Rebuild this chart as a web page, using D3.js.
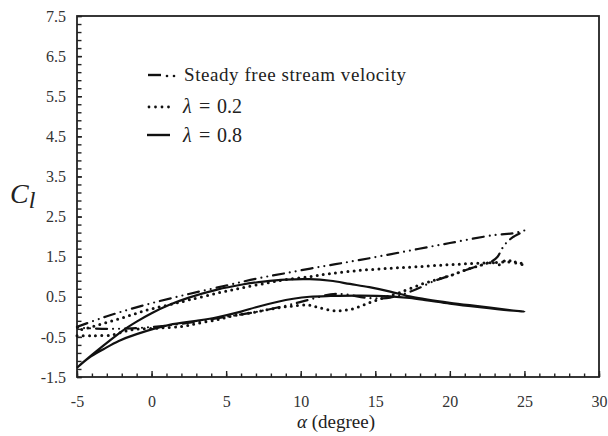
<!DOCTYPE html>
<html>
<head>
<meta charset="utf-8">
<script src="https://cdn.jsdelivr.net/npm/d3@7"></script>
<style>
  html, body { margin: 0; padding: 0; background: #fff; }
</style>
</head>
<body>
<svg id="chart" width="608" height="436"></svg>
<script>
// Lift coefficient vs angle of attack: hysteresis loops for a pitching aerofoil
const SERIF = "Liberation Serif, DejaVu Serif, serif";
const xMajorTicks = [-5, 0, 5, 10, 15, 20, 25, 30];
const yMajorTicks = [7.5, 6.5, 5.5, 4.5, 3.5, 2.5, 1.5, 0.5, -0.5, -1.5];

// Steady free stream velocity (upstroke then downstroke)
const steadyAlpha = [-5, -3.5, -2, 0, 2.5, 5, 7, 9, 11.5, 14, 17, 20, 23, 24.2, 25,
  24.2, 23.8, 23.5, 23.2, 22.8, 21.5, 20.2, 19, 17.5, 16, 14.5, 13, 12, 10.5, 9, 7, 5, 3, 1, -1, -3, -5];
const steadyCl = [-0.25, -0.05, 0.13, 0.34, 0.57, 0.78, 0.95, 1.09, 1.26, 1.42, 1.63, 1.84, 2.04, 2.08, 2.15,
  1.98, 1.85, 1.7, 1.5, 1.38, 1.22, 1.05, 0.9, 0.65, 0.48, 0.47, 0.56, 0.56, 0.42, 0.28, 0.12, 0.0, -0.12, -0.22, -0.28, -0.3, -0.27];

// lambda = 0.2
const lam02Alpha = [-5, -4, -2.6, -1.8, -1, 0.5, 2, 3, 4.4, 5.5, 7, 8.4, 9.5, 10.6, 11.3, 12.4, 13.5, 14.6, 15.6, 16.6, 18, 19.1, 20.2, 21.3, 22.2, 22.8, 23.3, 23.8, 24.3, 25,
  24.5, 22.2, 20, 17.8, 16, 14, 12, 10.6, 9, 7.7, 6, 4.4, 2.5, 1.2, 0, -1, -2, -3, -4, -5];
const lam02Cl = [-0.47, -0.47, -0.45, -0.36, -0.31, -0.28, -0.24, -0.17, -0.07, 0.03, 0.12, 0.22, 0.27, 0.29, 0.22, 0.15, 0.2, 0.35, 0.48, 0.6, 0.8, 0.93, 1.05, 1.2, 1.3, 1.36, 1.3, 1.42, 1.35, 1.3,
  1.36, 1.34, 1.3, 1.25, 1.21, 1.16, 1.08, 1.0, 0.93, 0.84, 0.72, 0.59, 0.42, 0.3, 0.2, 0.09, -0.03, -0.14, -0.25, -0.35];

// lambda = 0.8
const lam08Alpha = [-5, -4, -3, -2, -1, 0, 1.2, 2.5, 4.4, 6, 7.5, 9, 10.6, 12, 13.3, 14.6, 16, 17.3, 18.5, 20, 22, 24, 25,
  24, 22, 20, 18.5, 17.3, 16, 14, 12, 10.6, 9.5, 8.4, 7, 6, 4.4, 3, 1.2, -1, -2.2, -3.2, -4.2, -5];
const lam08Cl = [-1.27, -0.95, -0.65, -0.36, -0.12, 0.09, 0.3, 0.48, 0.68, 0.8, 0.88, 0.93, 0.94, 0.9, 0.82, 0.74, 0.63, 0.51, 0.43, 0.35, 0.26, 0.17, 0.13,
  0.16, 0.24, 0.33, 0.41, 0.47, 0.51, 0.53, 0.52, 0.5, 0.45, 0.37, 0.24, 0.13, -0.01, -0.1, -0.2, -0.43, -0.6, -0.8, -1.02, -1.27];

const legendLabels = ["Steady free stream velocity", "0.2", "0.8"];

const svg = d3.select("#chart");
const x = d3.scaleLinear().domain([-5, 30]).range([77, 599]);
const y = d3.scaleLinear().domain([-1.5, 7.5]).range([377, 16]);

// minor ticks
svg.append("g").attr("transform", `translate(0,${y(-1.5)})`)
  .call(d3.axisBottom(x).tickValues(d3.range(-5, 31, 1)).tickSizeInner(-3.5).tickSizeOuter(0).tickFormat(""))
  .call(g => g.select(".domain").remove());
svg.append("g").attr("transform", `translate(${x(-5)},0)`)
  .call(d3.axisLeft(y).tickValues(d3.range(0, 46).map(k => +(7.5 - 0.2 * k).toFixed(1))).tickSizeInner(-4.5).tickSizeOuter(0).tickFormat(""))
  .call(g => g.select(".domain").remove());

// major ticks with labels
svg.append("g").attr("class", "xaxis").attr("transform", `translate(0,${y(-1.5)})`)
  .call(d3.axisBottom(x).tickValues(xMajorTicks).tickSizeInner(-6).tickSizeOuter(0).tickPadding(19).tickFormat(d => String(d)))
  .call(g => g.select(".domain").remove());
svg.append("g").attr("class", "yaxis").attr("transform", `translate(${x(-5)},0)`)
  .call(d3.axisLeft(y).tickValues(yMajorTicks).tickSizeInner(-5).tickSizeOuter(0).tickPadding(11).tickFormat(d => d.toFixed(1)))
  .call(g => g.select(".domain").remove());

svg.selectAll(".tick line").attr("stroke", "#222").attr("stroke-width", 1.4);
svg.selectAll(".xaxis, .yaxis").attr("font-family", null).attr("font-size", null);
svg.selectAll(".xaxis text, .yaxis text").style("font-family", SERIF).style("font-size", "16px").attr("fill", "#333");

// plot frame
svg.append("rect")
  .attr("x", x(-5)).attr("y", y(7.5))
  .attr("width", x(30) - x(-5)).attr("height", y(-1.5) - y(7.5))
  .attr("fill", "none").attr("stroke", "#222").attr("stroke-width", 1.8);

// axis titles
const cl = svg.append("text").attr("x", 10).attr("y", 203)
  .style("font-family", SERIF).style("font-size", "28px").style("font-style", "italic").attr("fill", "#222");
cl.append("tspan").text("C");
cl.append("tspan").attr("dy", 5).style("font-size", "24px").text("l");

const xt = svg.append("text").attr("x", 336).attr("y", 428).attr("text-anchor", "middle")
  .style("font-family", SERIF).style("font-size", "19px").attr("fill", "#222");
xt.append("tspan").style("font-style", "italic").text("α");
xt.append("tspan").text(" (degree)");

// curves
const line = d3.line().x(d => x(d[0])).y(d => y(d[1])).curve(d3.curveCatmullRom.alpha(0.5));
const pair = (a, c) => a.map((v, i) => [v, c[i]]);

svg.append("path").datum(pair(lam08Alpha, lam08Cl))
  .attr("d", line).attr("fill", "none").attr("stroke", "#111").attr("stroke-width", 2.2);
svg.append("path").datum(pair(lam02Alpha, lam02Cl))
  .attr("d", line).attr("fill", "none").attr("stroke", "#111").attr("stroke-width", 3)
  .attr("stroke-linecap", "round").attr("stroke-dasharray", "0 6.2");
svg.append("path").datum(pair(steadyAlpha, steadyCl))
  .attr("d", line).attr("fill", "none").attr("stroke", "#111").attr("stroke-width", 2.2)
  .attr("stroke-linecap", "round").attr("stroke-dasharray", "11 6 0 6 0 6");

// legend
const leg = svg.append("g").attr("fill", "#222");
const ly = [75, 106, 135];
leg.append("line").attr("x1", 148).attr("x2", 161).attr("y1", ly[0]).attr("y2", ly[0])
  .attr("stroke", "#111").attr("stroke-width", 2.4);
[167, 174].forEach(cx => leg.append("circle").attr("cx", cx).attr("cy", ly[0] + 1).attr("r", 1.3).attr("fill", "#111"));
[149, 155.5, 162, 168.5].forEach(cx => leg.append("circle").attr("cx", cx).attr("cy", ly[1] + 1).attr("r", 1.4).attr("fill", "#111"));
leg.append("line").attr("x1", 147).attr("x2", 170).attr("y1", ly[2]).attr("y2", ly[2])
  .attr("stroke", "#111").attr("stroke-width", 2.4);

leg.append("text").attr("x", 184).attr("y", ly[0] + 6)
  .attr("textLength", 222).attr("lengthAdjust", "spacing")
  .style("font-family", SERIF).style("font-size", "19px").text(legendLabels[0]);
[1, 2].forEach(i => {
  const t = leg.append("text").attr("y", ly[i] + 7).style("font-family", SERIF).style("font-size", "20px");
  t.append("tspan").attr("x", 183).style("font-style", "italic").text("λ");
  t.append("tspan").attr("x", 199).text("=");
  t.append("tspan").attr("x", 217).text(legendLabels[i]);
});
</script>
</body>
</html>
